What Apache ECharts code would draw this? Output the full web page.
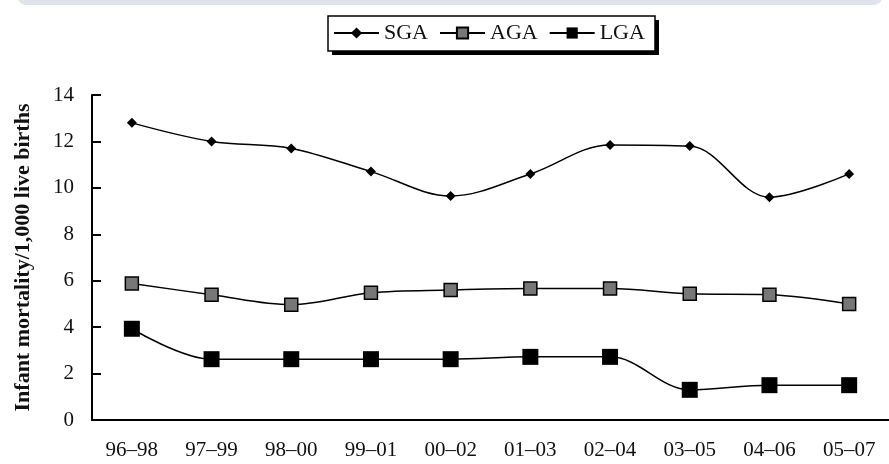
<!DOCTYPE html>
<html>
<head>
<meta charset="utf-8">
<script src="https://cdn.jsdelivr.net/npm/echarts@6/dist/echarts.min.js"></script>
<style>
html,body{margin:0;padding:0;background:#fff;}
#chart{width:889px;height:464px;}
</style>
</head>
<body>
<div id="chart"></div>
<script>
const categories = ['96\u201398','97\u201399','98\u201300','99\u201301','00\u201302','01\u201303','02\u201304','03\u201305','04\u201306','05\u201307'];
const sga = [12.8, 12.0, 11.7, 10.7, 9.65, 10.6, 11.85, 11.8, 9.6, 10.6];
const aga = [5.88, 5.4, 4.97, 5.48, 5.6, 5.66, 5.66, 5.44, 5.4, 5.0];
const lga = [3.93, 2.62, 2.62, 2.62, 2.62, 2.72, 2.72, 1.3, 1.5, 1.5];
const yTitle = 'Infant mortality/1,000 live births';

const chart = echarts.init(document.getElementById('chart'), null, {renderer:'canvas'});
const serif = 'Liberation Serif';
chart.setOption({
  animation: false,
  backgroundColor: '#fff',
  graphic: [
    {type: 'rect', shape: {x: 18, y: -12, width: 864, height: 17, r: 8},
     style: {fill: '#dfe4ea'}, silent: true, z: 0},
    {type: 'rect', shape: {x: 332, y: 20, width: 327, height: 35},
     style: {fill: '#000'}, silent: true, z: 0},
    {type: 'rect', shape: {x: 328, y: 16, width: 327, height: 35},
     style: {fill: '#fff', stroke: '#000', lineWidth: 1.5}, silent: true, z: 1}
  ],
  legend: {
    left: 333, top: 22,
    padding: 0,
    itemWidth: 45, itemHeight: 14, itemGap: 11,
    textStyle: {fontFamily: serif, fontSize: 22, color: '#111'},
    z: 10,
    data: ['SGA','AGA','LGA']
  },
  grid: {left: 92, top: 95, bottom: 44, width: 802, containLabel: false},
  xAxis: {
    type: 'category', data: categories, boundaryGap: true,
    axisLine: {lineStyle: {color: '#000', width: 2}},
    axisTick: {inside: true, length: 9, interval: 0, lineStyle: {color: '#000', width: 2}},
    axisLabel: {fontFamily: serif, fontSize: 21, color: '#111', margin: 20, interval: 0},
    splitLine: {show: false}
  },
  yAxis: {
    type: 'value', min: 0, max: 14, interval: 2,
    name: yTitle, nameLocation: 'middle', nameGap: 58, nameRotate: 90,
    nameTextStyle: {fontFamily: serif, fontWeight: 'bold', fontSize: 22, color: '#111'},
    axisLine: {show: true, lineStyle: {color: '#000', width: 2}},
    axisTick: {show: true, inside: true, length: 9, lineStyle: {color: '#000', width: 2}},
    axisLabel: {fontFamily: serif, fontSize: 21, color: '#111', margin: 18},
    splitLine: {show: false}
  },
  series: [
    {name: 'SGA', type: 'line', data: sga, smooth: 0.35,
     symbol: 'diamond', symbolSize: 10,
     lineStyle: {color: '#000', width: 1.5},
     itemStyle: {color: '#000', borderColor: '#000', borderWidth: 0}},
    {name: 'AGA', type: 'line', data: aga, smooth: 0.35,
     symbol: 'rect', symbolSize: 13,
     lineStyle: {color: '#000', width: 1.5},
     itemStyle: {color: '#777', borderColor: '#000', borderWidth: 1.5}},
    {name: 'LGA', type: 'line', data: lga, smooth: 0.35,
     symbol: 'rect', symbolSize: 16,
     lineStyle: {color: '#000', width: 1.5},
     itemStyle: {color: '#000', borderColor: '#000', borderWidth: 0}}
  ]
});
</script>
</body>
</html>
